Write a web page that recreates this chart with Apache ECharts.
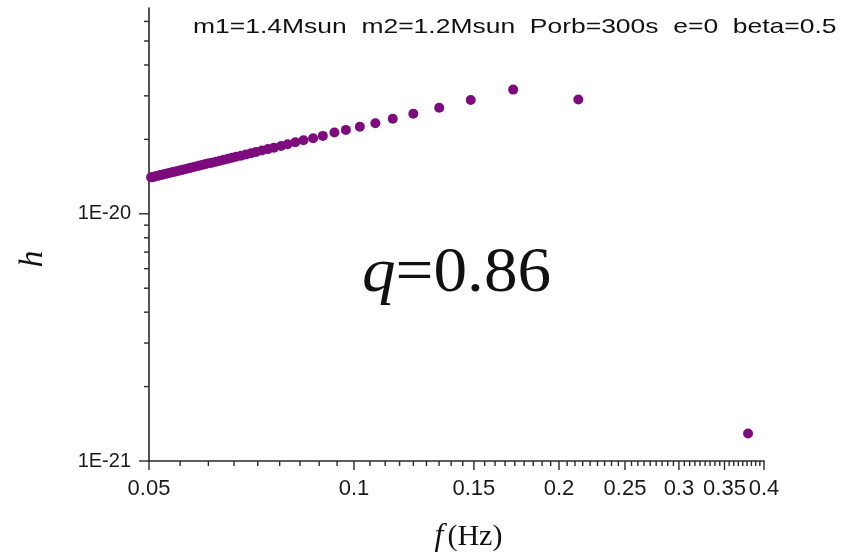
<!DOCTYPE html>
<html>
<head>
<meta charset="utf-8">
<script src="https://cdn.jsdelivr.net/npm/echarts@6/dist/echarts.min.js"></script>
<style>
  html, body { margin: 0; padding: 0; background: #fff; }
  #chart { width: 852px; height: 553px; }
</style>
</head>
<body>
<div id="chart"></div>
<script>
// Gravitational-wave strain amplitude h against frequency f (log-log)
const freqHz = [
  0.05035, 0.0507, 0.0510, 0.05135, 0.0517, 0.05205, 0.05245, 0.0528, 0.05315, 0.0536,
  0.05405, 0.0545, 0.05495, 0.05545, 0.0559, 0.05645, 0.05705, 0.0576, 0.0582, 0.0588,
  0.0594, 0.0600, 0.0606, 0.06125, 0.06185, 0.0627, 0.06355, 0.0644, 0.0653, 0.0662,
  0.0671, 0.06825, 0.0694, 0.0706, 0.0718, 0.07325, 0.07475, 0.0763, 0.07815, 0.0799,
  0.0820, 0.0843, 0.0871, 0.0900, 0.0936, 0.0973, 0.1020, 0.1075, 0.1140, 0.1222,
  0.1334, 0.1484, 0.1713, 0.2135, 0.379
];
const strainH = [
  1.404e-20, 1.410e-20, 1.416e-20, 1.422e-20, 1.429e-20, 1.435e-20, 1.442e-20, 1.449e-20, 1.455e-20, 1.463e-20,
  1.472e-20, 1.480e-20, 1.488e-20, 1.497e-20, 1.505e-20, 1.515e-20, 1.526e-20, 1.535e-20, 1.546e-20, 1.557e-20,
  1.568e-20, 1.578e-20, 1.589e-20, 1.600e-20, 1.610e-20, 1.625e-20, 1.640e-20, 1.654e-20, 1.669e-20, 1.685e-20,
  1.700e-20, 1.719e-20, 1.739e-20, 1.759e-20, 1.779e-20, 1.802e-20, 1.827e-20, 1.852e-20, 1.882e-20, 1.910e-20,
  1.946e-20, 1.983e-20, 2.020e-20, 2.066e-20, 2.131e-20, 2.185e-20, 2.248e-20, 2.325e-20, 2.423e-20, 2.539e-20,
  2.687e-20, 2.885e-20, 3.180e-20, 2.900e-20, 1.291e-21
];

// Axis ranges and tick labels
const xRange = [0.05, 0.4];
const yRange = [1e-21, 6.8e-20];
const xMajorTicks = [0.05, 0.1, 0.15, 0.2, 0.25, 0.3, 0.35, 0.4];
const xTickLabels = ['0.05', '0.1', '0.15', '0.2', '0.25', '0.3', '0.35', '0.4'];
const xMinorPerMajor = 8;
const yMajorTicks = [1e-21, 1e-20];
const yTickLabels = ['1E-21', '1E-20'];
const yMinorTicks = [2e-21, 3e-21, 4e-21, 5e-21, 6e-21, 7e-21, 8e-21, 9e-21,
                     2e-20, 3e-20, 4e-20, 5e-20, 6e-20];

const headerText = 'm1=1.4Msun  m2=1.2Msun  Porb=300s  e=0  beta=0.5';
const ratioName = 'q';
const ratioValue = '=0.86';
const yTitle = 'h';

const AXIS_COLOR = '#2a2a2a';
const LABEL_FONT = 'Liberation Sans, Arial, sans-serif';
const SERIF_FONT = 'Liberation Serif, Times New Roman, serif';

// x ticks: majors plus evenly spaced minors inside each major interval
const xTicks = [];
xMajorTicks.forEach((v, i) => {
  xTicks.push({ v: v, major: true, label: xTickLabels[i] });
  if (i < xMajorTicks.length - 1) {
    const step = (xMajorTicks[i + 1] - v) / (xMinorPerMajor + 1);
    for (let k = 1; k <= xMinorPerMajor; k++) {
      xTicks.push({ v: v + step * k, major: false });
    }
  }
});
const yTicks = yMajorTicks.map((v, i) => ({ v: v, major: true, label: yTickLabels[i] }))
  .concat(yMinorTicks.map(v => ({ v: v, major: false })));

const chart = echarts.init(document.getElementById('chart'), null, { renderer: 'canvas' });

chart.setOption({
  backgroundColor: '#ffffff',
  animation: false,
  grid: { left: 149, right: 88, top: 8, bottom: 92, outerBoundsMode: 'none', containLabel: false },
  xAxis: {
    type: 'log',
    logBase: 10,
    min: xRange[0],
    max: xRange[1],
    axisLine: { show: true, onZero: false, lineStyle: { color: AXIS_COLOR, width: 1.6 } },
    axisTick: { show: false },
    axisLabel: { show: false },
    splitLine: { show: false },
    name: '{i|f}{n|(Hz)}',
    nameLocation: 'middle',
    nameGap: 60,
    nameTextStyle: {
      padding: [0, 0, 0, 24],
      rich: {
        i: { fontFamily: SERIF_FONT, fontStyle: 'italic', fontSize: 32, color: '#111', padding: [0, 4, 0, 0] },
        n: { fontFamily: SERIF_FONT, fontSize: 30, color: '#111' }
      }
    }
  },
  yAxis: {
    type: 'log',
    logBase: 10,
    min: yRange[0],
    max: yRange[1],
    axisLine: { show: true, onZero: false, lineStyle: { color: AXIS_COLOR, width: 1.6 } },
    axisTick: { show: false },
    axisLabel: { show: false },
    splitLine: { show: false }
  },
  graphic: [
    {
      type: 'text',
      x: 193, y: 17,
      scaleX: 1.26,
      style: { text: headerText, font: '21px ' + LABEL_FONT, fill: '#111', textVerticalAlign: 'top' },
      silent: true
    },
    {
      type: 'text',
      x: 362, y: 242,
      scaleX: 1.05,
      style: {
        text: '{i|' + ratioName + '}{n|' + ratioValue + '}',
        textVerticalAlign: 'top',
        rich: {
          i: { fontFamily: SERIF_FONT, fontStyle: 'italic', fontSize: 64, fill: '#111' },
          n: { fontFamily: SERIF_FONT, fontSize: 64, fill: '#111' }
        }
      },
      silent: true
    },
    {
      type: 'text',
      x: 33, y: 259,
      rotation: Math.PI / 2,
      style: {
        text: yTitle, textAlign: 'center', textVerticalAlign: 'middle',
        font: 'italic 34px ' + SERIF_FONT, fill: '#111'
      },
      silent: true
    }
  ],
  series: [
    {
      type: 'scatter',
      data: freqHz.map((f, i) => [f, strainH[i]]),
      symbol: 'circle',
      symbolSize: 10,
      itemStyle: { color: '#7d0b7d', opacity: 1 },
      z: 3
    },
    {
      // x-axis ticks and labels placed through the axis scale
      type: 'custom',
      clip: false,
      silent: true,
      z: 4,
      data: xTicks.map(t => [t.v, yRange[0]]),
      renderItem: function (params, api) {
        const t = xTicks[params.dataIndex];
        const p = api.coord([api.value(0), yRange[0]]);
        const len = t.major ? 9 : 5;
        const children = [{
          type: 'line',
          shape: { x1: p[0], y1: p[1], x2: p[0], y2: p[1] + len },
          style: { stroke: AXIS_COLOR, lineWidth: 1.4 }
        }];
        if (t.major) {
          children.push({
            type: 'text',
            style: {
              text: t.label, x: p[0], y: p[1] + 17,
              textAlign: 'center', textVerticalAlign: 'top',
              font: '22px ' + LABEL_FONT, fill: '#1a1a1a'
            }
          });
        }
        return { type: 'group', children: children };
      }
    },
    {
      // y-axis ticks and labels placed through the axis scale
      type: 'custom',
      clip: false,
      silent: true,
      z: 4,
      data: yTicks.map(t => [xRange[0], t.v]),
      renderItem: function (params, api) {
        const t = yTicks[params.dataIndex];
        const p = api.coord([xRange[0], api.value(1)]);
        const len = t.major ? 10 : 5;
        const children = [{
          type: 'line',
          shape: { x1: p[0] - len, y1: p[1], x2: p[0], y2: p[1] },
          style: { stroke: AXIS_COLOR, lineWidth: 1.4 }
        }];
        if (t.major) {
          children.push({
            type: 'text',
            style: {
              text: t.label, x: p[0] - 18, y: p[1],
              textAlign: 'right', textVerticalAlign: 'middle',
              font: '20px ' + LABEL_FONT, fill: '#1a1a1a'
            }
          });
        }
        return { type: 'group', children: children };
      }
    }
  ]
});
</script>
</body>
</html>
